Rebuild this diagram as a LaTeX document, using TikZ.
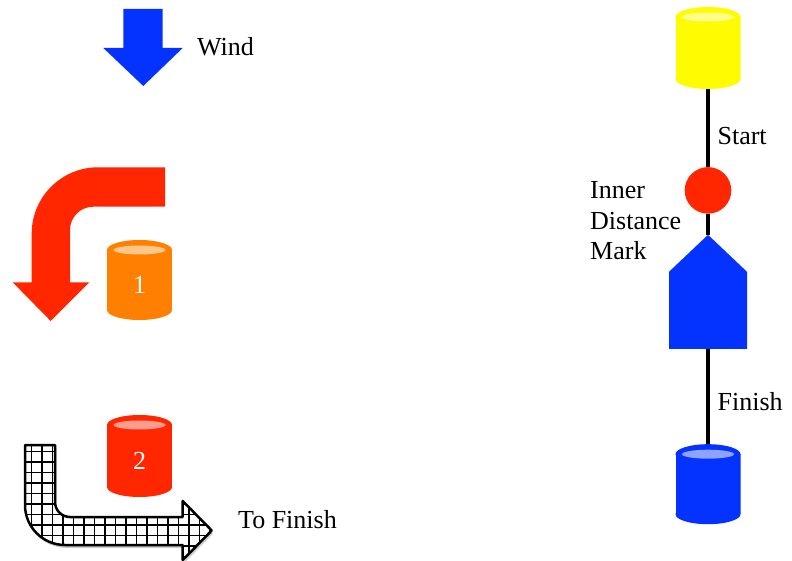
\documentclass[tikz,border=0pt]{standalone}
\usepackage{fontspec}
\setmainfont{Liberation Serif}
\usetikzlibrary{positioning}

\definecolor{windblue}{RGB}{4,51,255}
\definecolor{markred}{RGB}{255,38,0}
\definecolor{canorange}{RGB}{255,128,0}
\definecolor{canyellow}{RGB}{255,251,0}

\newcommand{\labelfont}{\fontsize{26}{30.5}\selectfont}
% outline of the hatched turn arrow
\newcommand{\turnpath}{(25,445) -- (25,505) arc[start angle=180,end angle=90,radius=40]
  -- (182.7,545) -- (182.7,560) -- (211.7,530.5) -- (182.7,501) -- (182.7,517)
  -- (70,517) arc[start angle=90,end angle=180,radius=15] -- (55,445) -- cycle}

\begin{document}
\begin{tikzpicture}[x=1pt,y=-1pt,auto,
  lbl/.style={font=\labelfont},
  track/.style={draw,line width=4.5pt},
  can/.style={minimum width=65pt,minimum height=80pt,inner sep=0pt,text=white,
    font=\labelfont,text height=27pt,text depth=0pt,
    path picture={
      \fill[#1] ([yshift=-10pt]path picture bounding box.north west) rectangle ([yshift=10pt]path picture bounding box.south east);
      \fill[#1] ([yshift=10pt]path picture bounding box.south) ellipse[x radius=32.5pt,y radius=10pt];
      \fill[#1] ([yshift=-10pt]path picture bounding box.north) ellipse[x radius=32.5pt,y radius=10pt];
      \fill[#1!45!white] ([yshift=-10pt]path picture bounding box.north) ellipse[x radius=26pt,y radius=4.5pt];
    }},
  gate/.style={minimum width=78pt,minimum height=114pt,inner sep=0pt,
    path picture={
      \fill[windblue] (path picture bounding box.south west) -- (path picture bounding box.south east)
        -- ([yshift=-37pt]path picture bounding box.north east) -- (path picture bounding box.north)
        -- ([yshift=-37pt]path picture bounding box.north west) -- cycle;
    }}]
  \useasboundingbox (0,0) rectangle (792,561);

  % left side
  \fill[windblue] (123.3,9) -- (162.7,9) -- (162.7,48) -- (182.7,48) -- (143.3,86) -- (103.3,48) -- (123.3,48) -- cycle;
  \node[lbl,anchor=west,inner sep=0pt] (windlbl) at (197,47) {Wind};

  \fill[markred] (165,167.3) -- (98,167.3) arc[start angle=270,end angle=180,radius=66.3]
    -- (31.7,282.3) -- (12.7,282.3) -- (50.7,321) -- (89.3,282.3) -- (70,282.3)
    -- (70,230) arc[start angle=180,end angle=270,radius=23.3] -- (165,206.7) -- cycle;

  \node[can=canorange] (can1) at (139.5,280) {1};
  \node[can=markred,minimum height=82pt] (can2) at (139.5,456) {2};

  \fill[black,opacity=0.2,xshift=1.5pt,yshift=-3pt] \turnpath;
  \begin{scope}
    \clip \turnpath;
    \fill[white] (0,440) rectangle (220,561);
    \draw[line width=1.7pt,step=10.5pt] (0,561) grid (220,440);
  \end{scope}
  \draw[line width=2.5pt,line join=round] \turnpath;
  \node[lbl,anchor=west,inner sep=0pt] (tofinish) at (238,520) {To Finish};

  % right side
  \node[can=canyellow,minimum height=82pt] (startcan) at (708,48) {};
  \node[circle,fill=markred,minimum size=46.6pt,inner sep=0pt] (mark) [below=77.7pt of startcan] {};
  \node[gate] (gate) [below=20.7pt of mark] {};
  \node[can=windblue] (finishcan) [below=95pt of gate] {};
  \node[lbl,align=left,anchor=north west,inner sep=0pt] (marklbl) at (590,181.5) {Inner\\Distance\\Mark};

  \path[track] (startcan) edge node[lbl,pos=0.6,xshift=4pt] {Start} (mark)
               (mark) edge (gate)
               (gate) edge node[lbl,pos=0.55,xshift=4pt] {Finish} (finishcan);
\end{tikzpicture}
\end{document}
